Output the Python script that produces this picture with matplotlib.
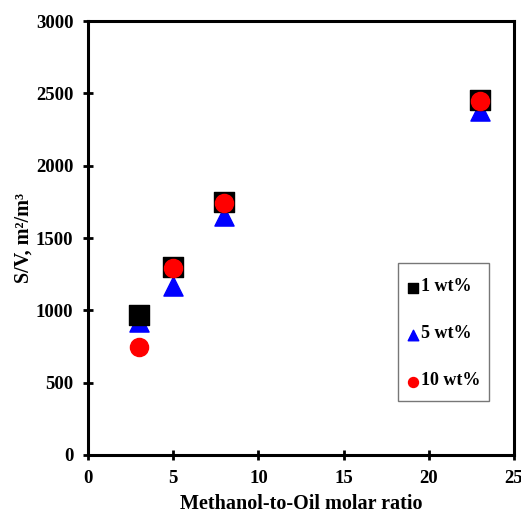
import matplotlib
matplotlib.use("Agg")
import matplotlib.pyplot as plt

plt.rcParams['font.family'] = ['Liberation Serif', 'DejaVu Serif']
plt.rcParams['font.weight'] = 'bold'

ratio = [3, 5, 8, 23]
s_1wt = [970, 1300, 1750, 2455]
s_5wt = [920, 1165, 1650, 2380]
s_10wt = [745, 1295, 1745, 2445]
x_ticks = [0, 5, 10, 15, 20, 25]
y_ticks = [0, 500, 1000, 1500, 2000, 2500, 3000]

fig = plt.figure(figsize=(5.21, 5.14), dpi=100)
ax = fig.add_axes([0.169, 0.1148, 0.8176, 0.8443])

ax.scatter(ratio, s_1wt, marker='s', s=190, color='black', label='1 wt%', zorder=3)
ax.scatter(ratio, s_5wt, marker='^', s=190, color='blue', label='5 wt%', zorder=2)
ax.scatter(ratio, s_10wt, marker='o', s=170, color='red', label='10 wt%', zorder=4)

ax.set_xlim(0, 25)
ax.set_ylim(0, 3000)
ax.set_xticks(x_ticks)
ax.set_yticks(y_ticks)
ax.tick_params(direction='inout', length=7, width=2, labelsize=13.5, pad=7)
for lab in ax.get_xticklabels() + ax.get_yticklabels():
    lab.set_fontweight('bold')
for sp in ax.spines.values():
    sp.set_linewidth(2.2)

ax.set_xlabel('Methanol-to-Oil molar ratio', fontsize=14.5, fontweight='bold', labelpad=5)
ax.set_ylabel('S/V, m\u00b2/m\u00b3', fontsize=14.5, fontweight='bold', labelpad=2)

leg = ax.legend(loc='upper left', bbox_to_anchor=(0.728, 0.442), frameon=True,
                fancybox=False, edgecolor='#555555', markerscale=0.55,
                prop={'family': 'Liberation Serif', 'weight': 'bold', 'size': 13},
                handletextpad=0.15, labelspacing=1.2, borderpad=0.5, handlelength=0.6,
                handleheight=1.8, scatteryoffsets=[0.12], borderaxespad=0)
leg.get_frame().set_linewidth(1.0)

fig.savefig('out.png', dpi=100)
